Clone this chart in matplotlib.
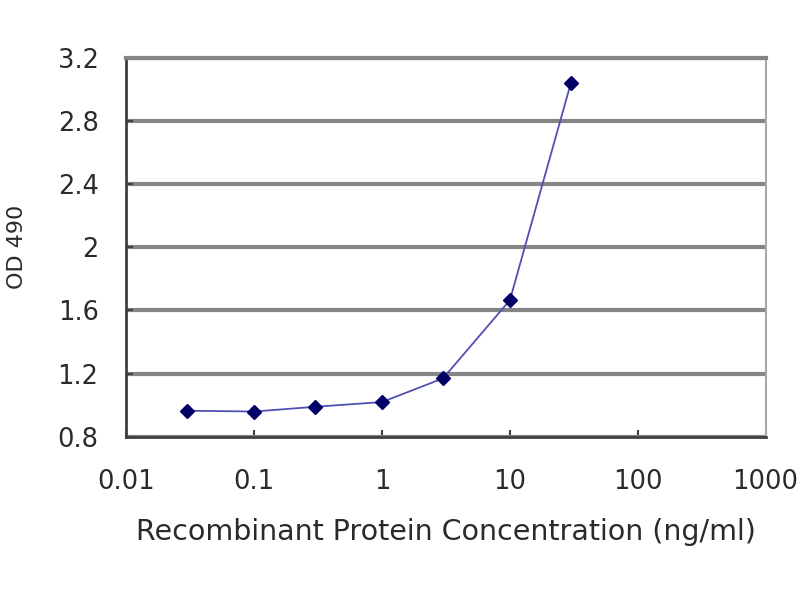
import matplotlib
matplotlib.use("Agg")
import matplotlib.pyplot as plt
from matplotlib.ticker import FixedLocator, FixedFormatter, NullLocator

plt.rcParams['font.family'] = ['DejaVu Sans']

# data
conc = [0.03, 0.1, 0.3, 1, 3, 10, 30]
od = [0.965, 0.96, 0.99, 1.02, 1.17, 1.665, 3.04]
x_ticks = [0.01, 0.1, 1, 10, 100, 1000]
x_labels = ["0.01", "0.1", "1", "10", "100", "1000"]
y_ticks = [0.8, 1.2, 1.6, 2.0, 2.4, 2.8, 3.2]
y_labels = ["0.8", "1.2", "1.6", "2", "2.4", "2.8", "3.2"]

fig = plt.figure(figsize=(8, 6), dpi=100)
ax = fig.add_axes([0.158, 0.272, 0.799, 0.632])

ax.plot(conc, od, color='#5050b4', linewidth=1.3, zorder=3,
        marker='D', markersize=7, markerfacecolor='#000066', markeredgecolor='#000066')

ax.set_xscale('log')
ax.set_xlim(0.01, 1000)
ax.set_ylim(0.8, 3.2)
ax.xaxis.set_major_locator(FixedLocator(x_ticks))
ax.xaxis.set_major_formatter(FixedFormatter(x_labels))
ax.xaxis.set_minor_locator(NullLocator())
ax.yaxis.set_major_locator(FixedLocator(y_ticks))
ax.yaxis.set_major_formatter(FixedFormatter(y_labels))

ax.grid(True, axis='y', color='#858585', linewidth=3, zorder=1)
ax.set_axisbelow(True)

for side in ['left', 'bottom']:
    ax.spines[side].set_color('#404040')
    ax.spines[side].set_linewidth(2)
ax.spines['right'].set_color('#a8a8a8')
ax.spines['right'].set_linewidth(1.5)
ax.spines['top'].set_color('#858585')
ax.spines['top'].set_linewidth(3)

ax.tick_params(axis='both', direction='in', labelsize=18.5, colors='#404040',
               labelcolor='#2a2a2a', length=5, width=1.5)
ax.tick_params(axis='y', pad=20)
ax.tick_params(axis='x', pad=23)

ax.set_ylabel("OD 490", fontsize=16, color='#2a2a2a', labelpad=22)
ax.set_xlabel("Recombinant Protein Concentration (ng/ml)", fontsize=20.5,
              color='#2a2a2a', labelpad=17)

fig.savefig("out.png", dpi=100)
